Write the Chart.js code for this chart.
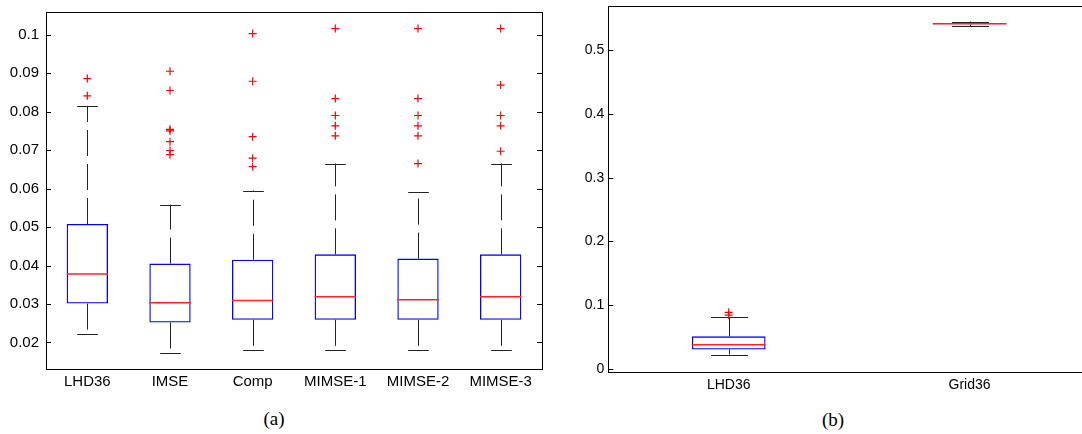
<!DOCTYPE html>
<html lang="en">
<head>
    <meta charset="UTF-8">
    <title>Box plots</title>
    <script src="https://cdn.jsdelivr.net/npm/chart.js@4.4.0/dist/chart.umd.min.js"></script>
    <style>
        html, body { margin: 0; padding: 0; background: #fff; overflow: hidden; width: 1082px; height: 434px; }
        .panel { position: absolute; top: 0; height: 400px; }
        #panel-a { left: 0; width: 560px; }
        #panel-b { left: 560px; width: 540px; }
        .caption { position: absolute; font-family: "Liberation Serif", "Times New Roman", serif; font-size: 19px; color: #000; transform: translateX(-50%); }
    </style>
</head>
<body>
    <div class="panel" id="panel-a"><canvas id="chart-a"></canvas></div>
    <div class="panel" id="panel-b"><canvas id="chart-b"></canvas></div>
    <div class="caption" style="left: 274px; top: 408px;">(a)</div>
    <div class="caption" style="left: 833px; top: 409px;">(b)</div>
    <script>
        // panel (a) data
        const catsA = ['LHD36', 'IMSE', 'Comp', 'MIMSE-1', 'MIMSE-2', 'MIMSE-3'];
        const lowA = [0.0223, 0.0172, 0.0180, 0.0180, 0.0180, 0.0180];
        const q1A = [0.0301, 0.0252, 0.0259, 0.0259, 0.0259, 0.0259];
        const medA = [0.0378, 0.0303, 0.0309, 0.0319, 0.0311, 0.0319];
        const q3A = [0.0508, 0.0405, 0.0415, 0.0429, 0.0418, 0.0429];
        const highA = [0.0815, 0.0558, 0.0595, 0.0665, 0.0592, 0.0665];
        const outA = [
            [0.0886, 0.0841],
            [0.0905, 0.0855, 0.0754, 0.0750, 0.0722, 0.0699, 0.0688],
            [0.1003, 0.0879, 0.0735, 0.0679, 0.0657],
            [0.1016, 0.0834, 0.0790, 0.0763, 0.0737],
            [0.1016, 0.0834, 0.0790, 0.0763, 0.0737, 0.0665],
            [0.1016, 0.0869, 0.0790, 0.0763, 0.0697]
        ];
        const ticksA = [0.02, 0.03, 0.04, 0.05, 0.06, 0.07, 0.08, 0.09, 0.1];

        // panel (b) data
        const catsB = ['LHD36', 'Grid36'];
        const lowB = [0.0223, 0.5378];
        const q1B = [0.0301, 0.5408];
        const medB = [0.0378, 0.5416];
        const q3B = [0.0508, 0.5424];
        const highB = [0.0815, 0.5452];
        const outB = [[0.0886, 0.0841], []];
        const ticksB = [0, 0.1, 0.2, 0.3, 0.4, 0.5];

        Chart.defaults.color = '#000';
        Chart.defaults.font.family = '"Liberation Sans", Arial, sans-serif';

        const crisp = v => Math.round(v) + 0.5;

        // whiskers, caps, medians and the MATLAB style frame
        function boxPlugin(low, q1, med, q3, high) {
            return {
                id: 'boxparts',
                beforeDatasetsDraw(chart) {
                    const ctx = chart.ctx, y = chart.scales.y;
                    const bars = chart.getDatasetMeta(0).data;
                    ctx.save();
                    ctx.strokeStyle = '#222';
                    ctx.lineWidth = 1;
                    bars.forEach((bar, i) => {
                        const cx = crisp(bar.x);
                        const half = bar.width / 4;
                        const yq3 = y.getPixelForValue(q3[i]), yHi = y.getPixelForValue(high[i]);
                        const yq1 = y.getPixelForValue(q1[i]), yLo = y.getPixelForValue(low[i]);
                        ctx.setLineDash([26, 8]);
                        ctx.beginPath();
                        ctx.moveTo(cx, yq3); ctx.lineTo(cx, yHi);
                        ctx.moveTo(cx, yq1); ctx.lineTo(cx, yLo);
                        ctx.stroke();
                        ctx.setLineDash([]);
                        ctx.beginPath();
                        ctx.moveTo(cx - half, crisp(yHi)); ctx.lineTo(cx + half, crisp(yHi));
                        ctx.moveTo(cx - half, crisp(yLo)); ctx.lineTo(cx + half, crisp(yLo));
                        ctx.stroke();
                    });
                    ctx.restore();
                },
                afterDatasetsDraw(chart) {
                    const ctx = chart.ctx, y = chart.scales.y;
                    const bars = chart.getDatasetMeta(0).data;
                    ctx.save();
                    ctx.strokeStyle = '#ff2020';
                    ctx.lineWidth = 1.5;
                    bars.forEach((bar, i) => {
                        const ym = y.getPixelForValue(med[i]);
                        ctx.beginPath();
                        ctx.moveTo(bar.x - bar.width / 2, ym);
                        ctx.lineTo(bar.x + bar.width / 2, ym);
                        ctx.stroke();
                    });
                    ctx.restore();
                },
                afterDraw(chart) {
                    const ctx = chart.ctx, a = chart.chartArea, y = chart.scales.y;
                    ctx.save();
                    ctx.strokeStyle = '#000';
                    ctx.lineWidth = 1;
                    ctx.strokeRect(crisp(a.left), crisp(a.top), Math.round(a.right - a.left), Math.round(a.bottom - a.top));
                    ctx.beginPath();
                    y.ticks.forEach(t => {
                        const py = crisp(y.getPixelForValue(t.value));
                        ctx.moveTo(a.left, py); ctx.lineTo(a.left + 5, py);
                        ctx.moveTo(a.right - 5, py); ctx.lineTo(a.right, py);
                    });
                    ctx.stroke();
                    ctx.restore();
                }
            };
        }

        function makeBoxChart(id, cats, low, q1, med, q3, high, outliers, tickVals, opts) {
            const outlierPoints = [];
            outliers.forEach((list, i) => list.forEach(v => outlierPoints.push({ x: cats[i], y: v })));

            new Chart(document.getElementById(id), {
                type: 'bar',
                data: {
                    labels: cats,
                    datasets: [{
                        type: 'bar',
                        data: q1.map((v, i) => [v, q3[i]]),
                        backgroundColor: 'rgba(255,255,255,0)',
                        borderColor: '#0000ff',
                        borderWidth: 1.3,
                        borderSkipped: false,
                        barPercentage: opts.barPct,
                        categoryPercentage: 1
                    }, {
                        type: 'line',
                        data: outlierPoints,
                        showLine: false,
                        pointStyle: 'cross',
                        pointRadius: 4,
                        pointBorderWidth: 1.2,
                        pointBorderColor: '#ff0000'
                    }]
                },
                options: {
                    responsive: true,
                    maintainAspectRatio: false,
                    animation: false,
                    layout: { padding: opts.padding },
                    plugins: { legend: { display: false }, tooltip: { enabled: false } },
                    scales: {
                        x: {
                            type: 'category',
                            offset: true,
                            grid: { display: false, drawTicks: false },
                            border: { display: false },
                            ticks: { font: { size: opts.fontSize }, padding: opts.xPad, maxRotation: 0 },
                            afterFit: s => {
                                s.height = opts.xHeight;
                                s.paddingLeft = 0; s.paddingRight = 0;
                            }
                        },
                        y: {
                            type: 'linear',
                            min: opts.yMin,
                            max: opts.yMax,
                            grid: { display: false, drawTicks: false },
                            border: { display: false },
                            afterBuildTicks: s => { s.ticks = tickVals.map(v => ({ value: v })); },
                            ticks: {
                                font: { size: opts.fontSize },
                                padding: opts.yPad,
                                callback: v => String(+v.toFixed(2))
                            },
                            afterFit: s => {
                                s.width = opts.yWidth;
                                s.paddingTop = 0; s.paddingBottom = 0;
                            }
                        }
                    }
                },
                plugins: [boxPlugin(low, q1, med, q3, high)]
            });
        }

        makeBoxChart('chart-a', catsA, lowA, q1A, medA, q3A, highA, outA, ticksA, {
            barPct: 0.5, fontSize: 15, xPad: 4, yPad: 7,
            xHeight: 31, yWidth: 46, yMin: 0.0131, yMax: 0.1059,
            padding: { top: 12, right: 18, bottom: 0, left: 0 }
        });

        makeBoxChart('chart-b', catsB, lowB, q1B, medB, q3B, highB, outB, ticksB, {
            barPct: 0.306, fontSize: 14, xPad: 5, yPad: 4,
            xHeight: 28.3, yWidth: 48.3, yMin: -0.0047, yMax: 0.5696,
            padding: { top: 6, right: 10, bottom: 0, left: 0 }
        });
    </script>
</body>
</html>
